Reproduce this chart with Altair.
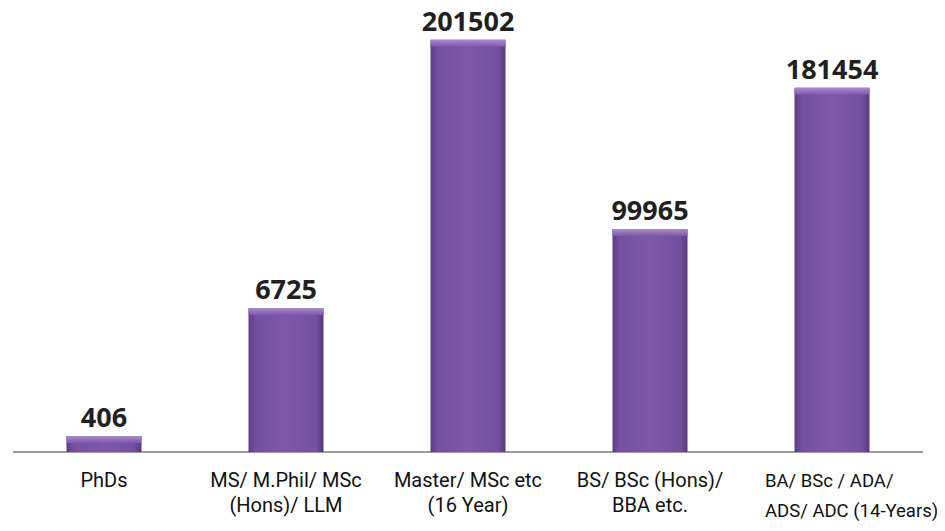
import altair as alt
import pandas as pd

# Category labels (line breaks as in the picture)
labels = [
    "PhDs",
    "MS/ M.Phil/ MSc\n(Hons)/ LLM",
    "Master/ MSc etc\n(16 Year)",
    "BS/ BSc (Hons)/\nBBA etc.",
    "BA/ BSc / ADA/\nADS/ ADC (14-Years)",
]
# Printed values above the bars
values = [406, 6725, 201502, 99965, 181454]
# Bar lengths as drawn in the picture (same units as the values)
bar_lengths = [7800, 70400, 201502, 109000, 178000]
# Last label is printed in a different style in the picture
big_label = [False, False, False, False, True]

df = pd.DataFrame({"label": labels, "value": values, "bar": bar_lengths, "big": big_label})

x = alt.X("label:N", sort=labels, axis=None,
          scale=alt.Scale(paddingInner=0, paddingOuter=0))
y = alt.Y("bar:Q", axis=None, scale=alt.Scale(domain=[0, 217000], nice=False, zero=True))

base = alt.Chart(df)

bars = base.mark_bar(
    size=75,
    color=alt.Gradient(
        gradient="linear", x1=0, x2=1, y1=0, y2=0,
        stops=[
            alt.GradientStop(color="#5c3d85", offset=0),
            alt.GradientStop(color="#7550a0", offset=0.1),
            alt.GradientStop(color="#7f58a9", offset=0.5),
            alt.GradientStop(color="#7550a0", offset=0.9),
            alt.GradientStop(color="#573980", offset=1),
        ],
    ),
).encode(x=x, y=y)

bevel = base.mark_bar(
    size=75,
    y2Offset=7,
    color=alt.Gradient(
        gradient="linear", x1=0, x2=0, y1=0, y2=1,
        stops=[
            alt.GradientStop(color="#a98bd0", offset=0),
            alt.GradientStop(color="#7e58a8", offset=1),
        ],
    ),
).encode(x=x, y=y, y2=alt.Y2("bar:Q"))

baseline = base.mark_rule(color="#9c9c9c", strokeWidth=1.6).encode(
    x=alt.value(0), x2=alt.value(910), y=alt.value(444)
)

value_text = base.mark_text(
    baseline="alphabetic", dy=-9, font="Open Sans", fontWeight="bold",
    fontSize=27, color="#231f20",
).encode(x=x, y=y, text=alt.Text("value:Q", format="d"))

cat_text = base.transform_filter("!datum.big").mark_text(
    align="center", baseline="alphabetic", font="Roboto", fontSize=20,
    lineHeight=25, lineBreak="\n", color="#111111",
).encode(x=x, y=alt.value(479), text="label:N")

big_text = base.transform_filter("datum.big").mark_text(
    align="left", baseline="alphabetic", dx=-67,
    font="Roboto", fontSize=18.5,
    lineHeight=30, lineBreak="\n", color="#111111",
).encode(x=x, y=alt.value(479), text="label:N")

chart = alt.layer(baseline, bars, bevel, value_text, cat_text, big_text).properties(
    width=910, height=444,
    padding={"left": 5, "top": 0, "right": 14, "bottom": 71},
    autosize=alt.AutoSizeParams(type="none"),
).configure_view(stroke=None)

chart.save("out.html", embed_options={"renderer": "svg", "actions": False})
